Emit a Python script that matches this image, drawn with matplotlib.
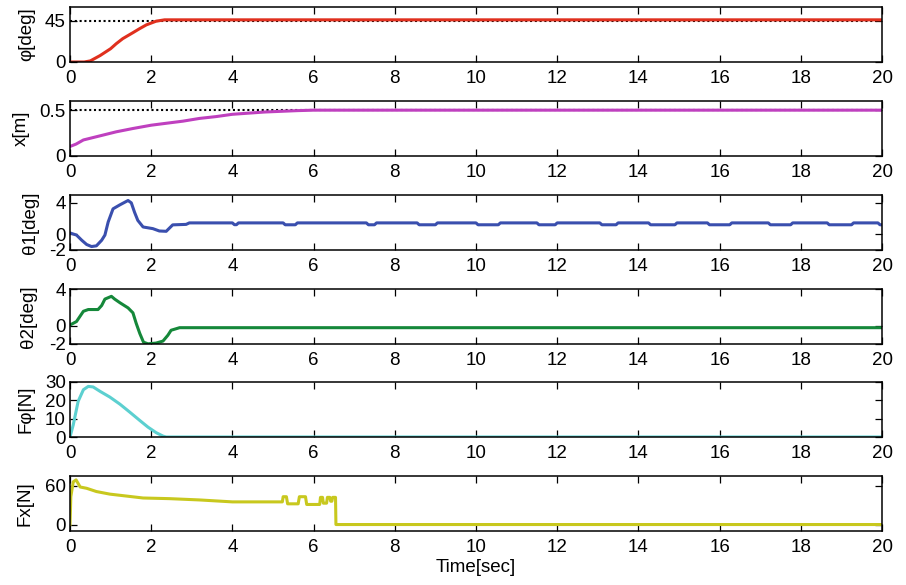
import numpy as np
import matplotlib as mpl
mpl.use('Agg')
from matplotlib import pyplot as plt

plt.rcParams['font.family'] = ['Liberation Sans', 'DejaVu Sans']
plt.rcParams['font.size'] = 13.5

# yaw angle phi [deg]
t_phi = [0, 0.35, 0.5, 0.74, 1.0, 1.14, 1.3, 1.55, 1.7, 1.88, 2.0, 2.12, 2.33, 20]
phi = [0, 0, 1.2, 7.0, 14.5, 20, 25.5, 32, 36, 40.5, 42.5, 44.5, 46, 46]
phi_ref = 45

# cart position x [m]
t_x = [0, 0.15, 0.33, 0.74, 1.14, 1.55, 2.0, 2.37, 2.78, 3.19, 3.6, 4.0, 4.8, 5.6, 6.0, 20]
xpos = [0.104, 0.13, 0.175, 0.22, 0.264, 0.30, 0.336, 0.357, 0.38, 0.41, 0.43,
        0.455, 0.48, 0.495, 0.5, 0.5]
x_ref = 0.5

# swing angle theta1 [deg]
t_th1 = [0, 0.16, 0.29, 0.41, 0.53, 0.65, 0.78, 0.86, 0.94, 1.06, 1.23, 1.43, 1.51,
         1.59, 1.67, 1.8, 2.04, 2.2, 2.37, 2.53, 2.86, 2.94,
         4.0, 4.05, 4.1, 4.15, 5.25, 5.3, 5.55, 5.6, 7.3, 7.35, 7.5, 7.55,
         8.55, 8.6, 9.0, 9.05, 10.0, 10.05, 10.55, 10.6, 11.5, 11.55, 11.95, 12.0,
         13.05, 13.1, 13.45, 13.5, 14.25, 14.3, 14.9, 14.95, 15.7, 15.75, 16.25, 16.3,
         17.2, 17.25, 17.75, 17.8, 18.65, 18.7, 19.25, 19.3, 19.9, 19.95, 20]
th1 = [0.17, -0.1, -0.76, -1.3, -1.56, -1.47, -0.76, -0.1, 1.56, 3.24, 3.75, 4.3, 4.0,
       2.8, 1.77, 0.93, 0.72, 0.42, 0.38, 1.2, 1.26, 1.45,
       1.45, 1.22, 1.22, 1.45, 1.45, 1.21, 1.21, 1.45, 1.45, 1.21, 1.21, 1.45,
       1.45, 1.21, 1.21, 1.45, 1.45, 1.21, 1.21, 1.45, 1.45, 1.21, 1.21, 1.45,
       1.45, 1.21, 1.21, 1.45, 1.45, 1.21, 1.21, 1.45, 1.45, 1.21, 1.21, 1.45,
       1.45, 1.21, 1.21, 1.45, 1.45, 1.21, 1.21, 1.45, 1.45, 1.21, 1.21]

# swing angle theta2 [deg]
t_th2 = [0, 0.16, 0.33, 0.45, 0.69, 0.78, 0.86, 1.02, 1.1, 1.23, 1.43, 1.55, 1.63,
         1.72, 1.81, 1.92, 2.12, 2.29, 2.41, 2.49, 2.61, 2.7, 20]
th2 = [0.07, 0.45, 1.57, 1.76, 1.76, 2.2, 2.9, 3.2, 2.9, 2.5, 1.94, 1.4, 0.26,
       -0.86, -1.8, -1.98, -1.9, -1.68, -1.05, -0.5, -0.34, -0.22, -0.22]

# yaw force F_phi [N]
t_fphi = [0, 0.08, 0.2, 0.33, 0.45, 0.57, 0.74, 0.98, 1.23, 1.47, 1.72, 1.92, 2.12,
          2.29, 2.37, 20]
fphi = [0, 6.6, 19.4, 25.8, 27.6, 27.3, 24.9, 21.8, 17.9, 13.6, 9.0, 5.4, 2.4, 0.5, 0, 0]

# cart force Fx [N]
t_fx = [0, 0.01, 0.02, 0.08, 0.15, 0.25, 0.41, 0.65, 0.98, 1.39, 1.8, 2.45, 3.19, 4.0,
        5.23, 5.25, 5.33, 5.36, 5.62, 5.65, 5.8, 5.83, 6.15, 6.17, 6.22, 6.24, 6.32,
        6.34, 6.4, 6.42, 6.45, 6.47, 6.54, 6.55, 20]
fx = [0, 20, 43, 66, 69, 58, 56, 51, 47, 44, 41, 40, 38, 35,
      35, 43, 43, 32, 32, 43, 43, 31, 31, 42, 42, 33, 33,
      42, 42, 36, 36, 42, 42, 0, 0]

panels = [
    (t_phi, phi, '#e0301e', 'φ[deg]', (0, 60), [0, 45], ['0', '45'], phi_ref, 27),
    (t_x, xpos, '#bf40bf', 'x[m]', (0, 0.6), [0, 0.5], ['0', '0.5'], x_ref, 21),
    (t_th1, th1, '#3a4fae', 'θ1[deg]', (-2, 5), [-2, 0, 4], ['-2', '0', '4'], None, 30),
    (t_th2, th2, '#15883a', 'θ2[deg]', (-2, 4), [-2, 0, 4], ['-2', '0', '4'], None, 29),
    (t_fphi, fphi, '#5cd0d0', 'Fφ[N]', (0, 30), [0, 10, 20, 30], ['0', '10', '20', '30'], None, 26),
    (t_fx, fx, '#c8c81e', 'Fx[N]', (-10, 75), [0, 60], ['0', '60'], None, 25),
]

W, H = 906, 585
tops = [7, 101, 195, 289, 382, 476]
ax_h = 55
left, right = 70, 882

fig = plt.figure(figsize=(W / 100, H / 100), dpi=100)
for i, (t, y, col, lab, ylim, yt, ytl, ref, lab_x) in enumerate(panels):
    ax = fig.add_axes([left / W, 1 - (tops[i] + ax_h) / H, (right - left) / W, ax_h / H])
    if ref is not None:
        ax.plot([0, 20], [ref, ref], color='black', linestyle=(0, (1, 1.3)), lw=1.5, zorder=1)
    ax.plot(t, y, color=col, lw=2.2, zorder=2)
    ax.set_xlim(0, 20)
    ax.set_ylim(*ylim)
    ax.set_xticks(range(0, 21, 2))
    ax.set_yticks(yt)
    ax.set_yticklabels(ytl)
    ax.tick_params(direction='in', length=5, width=0.9, top=True, right=True,
                   labelsize=13.5, pad=3)
    ax.tick_params(axis='x', pad=6)
    for s in ax.spines.values():
        s.set_linewidth(1.1)
    # y label centred at a fixed pixel column
    fig.text(lab_x / W, 1 - (tops[i] + ax_h / 2) / H, lab, rotation=90,
             ha='center', va='center', fontsize=13.5)
    if i == len(panels) - 1:
        ax.set_xlabel('Time[sec]', fontsize=13.5, labelpad=2)

plt.savefig('out.png', dpi=100)
